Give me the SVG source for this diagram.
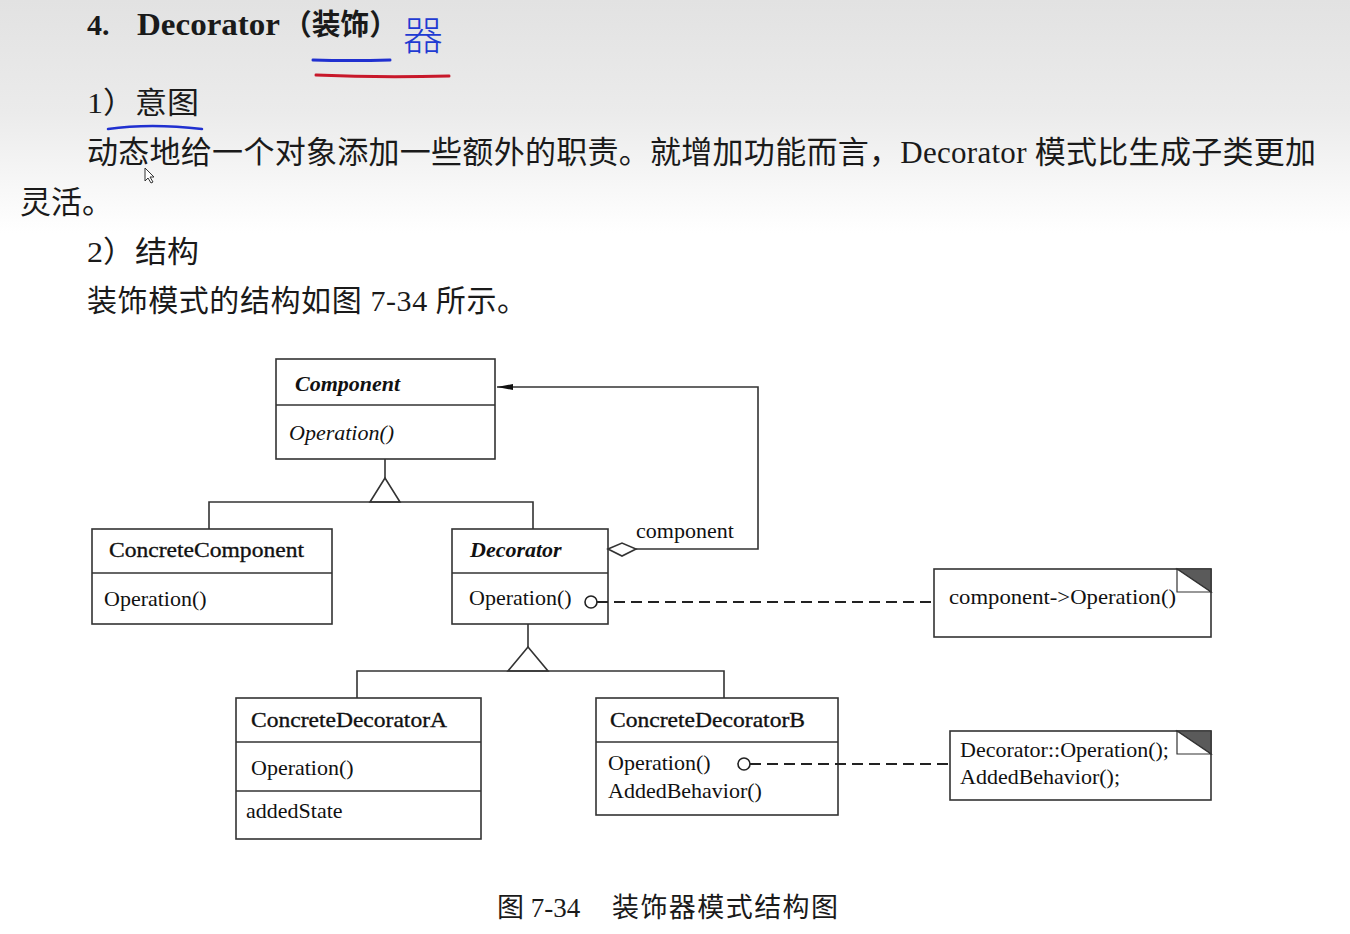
<svg xmlns="http://www.w3.org/2000/svg" width="1350" height="934" viewBox="0 0 1350 934">
<defs>
<linearGradient id="bg" x1="0" y1="0" x2="0" y2="934" gradientUnits="userSpaceOnUse">
<stop offset="0" stop-color="#e2e2e2"/>
<stop offset="0.12" stop-color="#ebebeb"/>
<stop offset="0.25" stop-color="#ffffff"/>
<stop offset="1" stop-color="#ffffff"/>
</linearGradient>
<marker id="arrow" markerWidth="16" markerHeight="10" refX="16" refY="5" orient="auto" markerUnits="userSpaceOnUse">
<path d="M0,2 L16,5 L0,8 Z" fill="#111"/>
</marker>
</defs>
<style>
.t{font-family:"Liberation Serif","Noto Sans CJK SC",serif;fill:#1a1a1a}
.box{fill:#fff;stroke:#333;stroke-width:1.6}
.ln{fill:none;stroke:#333;stroke-width:1.6}
.dash{fill:none;stroke:#222;stroke-width:1.8;stroke-dasharray:11 6}
.uml{font-family:"Liberation Serif",serif;font-size:22px;fill:#111}
.ttl{stroke:#111;stroke-width:0.35}
.bi{font-weight:bold;font-style:italic}
.it{font-style:italic}
.fold{fill:#5a5a5a;stroke:#333;stroke-width:1.2}
</style>
<rect x="0" y="0" width="1350" height="934" fill="url(#bg)"/>

<g id="heading">
<text class="t" x="87" y="35" font-size="30" font-weight="bold">4.</text>
<text class="t" x="137" y="35" font-size="32" font-weight="bold" textLength="143" lengthAdjust="spacingAndGlyphs">Decorator</text>
<text class="t" x="283" y="35" font-size="29" font-weight="bold" textLength="115" lengthAdjust="spacingAndGlyphs">（装饰）</text>
<text x="403" y="50" font-family="Noto Sans CJK SC, sans-serif" font-size="40" font-weight="300" fill="#1f3bd2">器</text>
<path d="M313,60 Q350,61 390,60" fill="none" stroke="#2030d0" stroke-width="3" stroke-linecap="round"/>
<path d="M316,75 Q380,78 449,76" fill="none" stroke="#c8182a" stroke-width="3" stroke-linecap="round"/>
</g>

<g id="intent">
<text class="t" x="87" y="113" font-size="30" textLength="112" lengthAdjust="spacingAndGlyphs">1）意图</text>
<path d="M108,129 Q150,123 202,129" fill="none" stroke="#2030d0" stroke-width="2.5" stroke-linecap="round"/>
<text class="t" x="87" y="163" font-size="31" textLength="1229" lengthAdjust="spacing">动态地给一个对象添加一些额外的职责。就增加功能而言，Decorator 模式比生成子类更加</text>
<text class="t" x="20" y="213" font-size="31">灵活。</text>
<path d="M145,168 L145,181 L148,178 L151,183 L153,182 L150,177 L154,177 Z" fill="#fff" stroke="#333" stroke-width="1"/>
</g>

<g id="structure">
<text class="t" x="87" y="262" font-size="30" textLength="112" lengthAdjust="spacingAndGlyphs">2）结构</text>
<text class="t" x="87" y="311" font-size="30" textLength="440" lengthAdjust="spacing">装饰模式的结构如图 7-34 所示。</text>
</g>

<g id="Component">
<rect class="box" x="276" y="359" width="219" height="100"/>
<line class="ln" x1="276" y1="405" x2="495" y2="405"/>
<text class="uml bi" x="295" y="391">Component</text>
<text class="uml it" x="289" y="440">Operation()</text>
</g>

<g id="ConcreteComponent">
<rect class="box" x="92" y="529" width="240" height="95"/>
<line class="ln" x1="92" y1="573" x2="332" y2="573"/>
<text class="uml ttl" x="109" y="557" textLength="195" lengthAdjust="spacingAndGlyphs">ConcreteComponent</text>
<text class="uml" x="104" y="606">Operation()</text>
</g>

<g id="Decorator">
<rect class="box" x="452" y="529" width="156" height="95"/>
<line class="ln" x1="452" y1="573" x2="608" y2="573"/>
<text class="uml bi" x="470" y="557">Decorator</text>
<text class="uml" x="469" y="605">Operation()</text>
</g>

<g id="ConcreteDecoratorA">
<rect class="box" x="236" y="698" width="245" height="141"/>
<line class="ln" x1="236" y1="742" x2="481" y2="742"/>
<line class="ln" x1="236" y1="791" x2="481" y2="791"/>
<text class="uml ttl" x="251" y="727" textLength="196" lengthAdjust="spacingAndGlyphs">ConcreteDecoratorA</text>
<text class="uml" x="251" y="775">Operation()</text>
<text class="uml" x="246" y="818">addedState</text>
</g>

<g id="ConcreteDecoratorB">
<rect class="box" x="596" y="698" width="242" height="117"/>
<line class="ln" x1="596" y1="742" x2="838" y2="742"/>
<text class="uml ttl" x="610" y="727" textLength="195" lengthAdjust="spacingAndGlyphs">ConcreteDecoratorB</text>
<text class="uml" x="608" y="770">Operation()</text>
<text class="uml" x="608" y="798">AddedBehavior()</text>
</g>

<g id="note1">
<rect class="box" x="934" y="569" width="277" height="68"/>
<path class="fold" d="M1177,569 L1211,569 L1211,592 Z"/>
<path d="M1177,569 L1177,592 L1211,592 Z" fill="#fff" stroke="#333" stroke-width="1.2"/>
<text class="uml" x="949" y="604" textLength="227" lengthAdjust="spacingAndGlyphs">component-&gt;Operation()</text>
</g>

<g id="note2">
<rect class="box" x="950" y="731" width="261" height="69"/>
<path class="fold" d="M1177,731 L1211,731 L1211,754 Z"/>
<path d="M1177,731 L1177,754 L1211,754 Z" fill="#fff" stroke="#333" stroke-width="1.2"/>
<text class="uml" x="960" y="757">Decorator::Operation();</text>
<text class="uml" x="960" y="784">AddedBehavior();</text>
</g>

<g id="connectors">
<line class="ln" x1="385" y1="459" x2="385" y2="478"/>
<path class="ln" d="M385,478 L370,502 L400,502 Z"/>
<path class="ln" d="M209,529 L209,502 L533,502 L533,529"/>
<path d="M608,549 L622,543 L636,549 L622,556 Z" fill="#fff" stroke="#333" stroke-width="1.6"/>
<path class="ln" d="M636,549 L758,549 L758,387 L497,387" marker-end="url(#arrow)"/>
<line class="ln" x1="528" y1="624" x2="528" y2="647"/>
<path class="ln" d="M528,647 L508,671 L548,671 Z"/>
<path class="ln" d="M357,698 L357,671 L724,671 L724,698"/>
<circle cx="591" cy="602" r="6" fill="#fff" stroke="#222" stroke-width="1.6"/>
<line class="dash" x1="597" y1="602" x2="934" y2="602"/>
<circle cx="744" cy="764" r="6" fill="#fff" stroke="#222" stroke-width="1.6"/>
<line class="dash" x1="750" y1="764" x2="950" y2="764"/>
<text class="uml" x="636" y="538">component</text>
</g>

<g id="caption">
<text class="t" x="497" y="917" font-size="27">图 7-34</text>
<text class="t" x="612" y="917" font-size="27" textLength="226" lengthAdjust="spacing">装饰器模式结构图</text>
</g>
</svg>
